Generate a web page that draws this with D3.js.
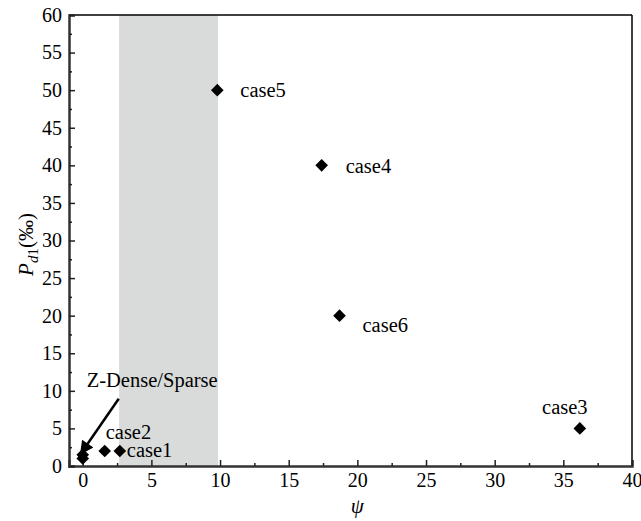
<!DOCTYPE html>
<html>
<head>
<script src="https://d3js.org/d3.v7.min.js"></script>
<style>
  body { margin: 0; background: #fff; }
  svg text { font-family: "Liberation Serif", "DejaVu Serif", serif; fill: #000; }
</style>
</head>
<body>
<script>
// data
var caseNames = ["case1", "case2", "case3", "case4", "case5", "case6", "zd1", "zd2"];
var psiValues = [2.7, 1.6, 36.2, 17.4, 9.8, 18.7, 0, 0];
var pd1Values = [2, 2, 5, 40, 50, 20, 1.5, 1];
var shadeRange = [2.65, 9.85];
var xTicks = [0, 5, 10, 15, 20, 25, 30, 35, 40];
var yTicks = [0, 5, 10, 15, 20, 25, 30, 35, 40, 45, 50, 55, 60];

// labels: which point, dx, dy, anchor
var labels = [
  {name: "case5", text: "case5", dx: 23, dy: 7, anchor: "start"},
  {name: "case4", text: "case4", dx: 24, dy: 8, anchor: "start"},
  {name: "case6", text: "case6", dx: 23, dy: 16, anchor: "start"},
  {name: "case3", text: "case3", dx: -15, dy: -14, anchor: "middle"},
  {name: "case2", text: "case2", dx: 1, dy: -12, anchor: "start"},
  {name: "case1", text: "case1", dx: 7, dy: 6, anchor: "start"}
];

var data = caseNames.map(function(n, i) { return {name: n, x: psiValues[i], y: pd1Values[i]}; });

var W = 641, H = 521;
var margin = {top: 15, right: 9, bottom: 55, left: 69};
var width = W - margin.left - margin.right,
    height = H - margin.top - margin.bottom;
var serif = "'Liberation Serif', 'DejaVu Serif', serif";

var svg = d3.select("body").append("svg")
  .attr("width", W).attr("height", H);
var g = svg.append("g")
  .attr("transform", "translate(" + margin.left + "," + margin.top + ")");

var x = d3.scaleLinear().domain([-1, 40]).range([0, width]);
var y = d3.scaleLinear().domain([0, 60]).range([height, 0]);

// shaded band
g.append("rect")
  .attr("x", x(shadeRange[0]))
  .attr("width", x(shadeRange[1]) - x(shadeRange[0]))
  .attr("y", 0)
  .attr("height", height)
  .attr("fill", "#d9dbdb");

// frame (top and right thin)
g.append("line").attr("x1", 0).attr("x2", width).attr("y1", 0).attr("y2", 0)
  .attr("stroke", "#000").attr("stroke-width", 1.5);
g.append("line").attr("x1", width).attr("x2", width).attr("y1", 0).attr("y2", height)
  .attr("stroke", "#000").attr("stroke-width", 1.5);

// minor ticks
var xMinor = xTicks.slice(0, -1).map(function(d) { return d + 2.5; });
var yMinor = yTicks.slice(0, -1).map(function(d) { return d + 2.5; });

g.append("g")
  .attr("transform", "translate(0," + height + ")")
  .call(d3.axisBottom(x).tickValues(xTicks).tickSize(-6).tickPadding(7));
g.append("g")
  .attr("transform", "translate(0," + height + ")")
  .call(d3.axisBottom(x).tickValues(xMinor).tickSize(-3).tickFormat(""))
  .select(".domain").remove();

g.append("g")
  .call(d3.axisLeft(y).tickValues(yTicks).tickSize(-6).tickPadding(7));
g.append("g")
  .call(d3.axisLeft(y).tickValues(yMinor).tickSize(-3).tickFormat(""))
  .select(".domain").remove();

g.selectAll(".domain").attr("stroke", "#333").attr("stroke-width", 2.5);
g.selectAll(".tick line").attr("stroke", "#222").attr("stroke-width", 1.5);
g.selectAll("g").attr("font-family", serif);
g.selectAll(".tick text")
  .attr("font-family", serif)
  .style("font-family", serif).style("font-size", "20px");

// points: squares turned 45 degrees
var sym = d3.symbol().type(d3.symbolSquare).size(80);
g.selectAll(".pt").data(data).enter().append("path")
  .attr("class", "pt")
  .attr("d", sym)
  .attr("transform", function(d) { return "translate(" + x(d.x) + "," + y(d.y) + ") rotate(45)"; })
  .attr("fill", "#000");

// labels
labels.forEach(function(l) {
  var d = data.find(function(p) { return p.name === l.name; });
  g.append("text")
    .attr("x", x(d.x) + l.dx)
    .attr("y", y(d.y) + l.dy)
    .attr("text-anchor", l.anchor)
    .style("font-family", serif).style("font-size", "20.5px")
    .text(l.text);
});

// Z-Dense/Sparse annotation with arrow
svg.append("defs").append("marker")
  .attr("id", "ah").attr("viewBox", "0 0 10 10")
  .attr("refX", 9).attr("refY", 5)
  .attr("markerWidth", 6.5).attr("markerHeight", 5.5)
  .attr("markerUnits", "strokeWidth")
  .attr("orient", "auto")
  .append("path").attr("d", "M0,0 L10,5 L0,10 z").attr("fill", "#000");

var zd = data.find(function(p) { return p.name === "zd1"; });
g.append("line")
  .attr("x1", x(zd.x) + 36).attr("y1", y(zd.y) - 56)
  .attr("x2", x(zd.x) - 2).attr("y2", y(zd.y) - 1)
  .attr("stroke", "#000").attr("stroke-width", 2.5)
  .attr("marker-end", "url(#ah)");
g.append("text")
  .attr("x", x(zd.x) + 4).attr("y", y(zd.y) - 68)
  .style("font-family", serif).style("font-size", "20.5px")
  .text("Z-Dense/Sparse");

// axis titles
svg.append("text")
  .attr("x", margin.left + x(20)).attr("y", 513)
  .attr("text-anchor", "middle")
  .style("font-family", serif)
  .style("font-size", "21px").style("font-style", "italic")
  .text("ψ");

var yt = svg.append("text")
  .attr("transform", "translate(33," + (margin.top + height / 2 + 4) + ") rotate(-90)")
  .attr("text-anchor", "middle")
  .style("font-family", serif)
  .style("font-size", "21px");
yt.append("tspan").style("font-style", "italic").text("P");
yt.append("tspan").attr("dy", 5).style("font-size", "15px").style("font-style", "italic").text("d");
yt.append("tspan").style("font-size", "15px").text("1");
yt.append("tspan").attr("dy", -5).text("(‰)");
</script>
</body>
</html>
